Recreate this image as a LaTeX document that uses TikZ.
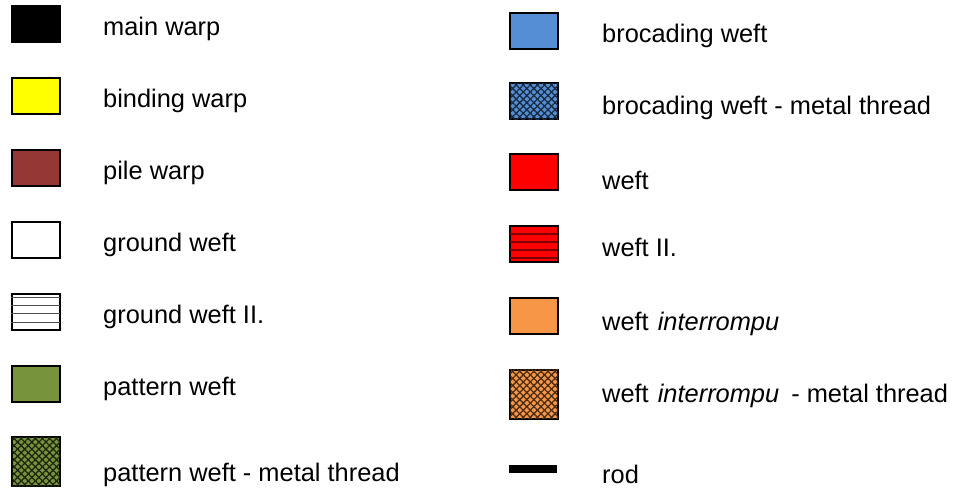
\documentclass[tikz,border=0pt]{standalone}
\usepackage{fontspec}
\setmainfont{Liberation Sans}
\usetikzlibrary{patterns.meta}
\definecolor{pilec}{HTML}{953735}
\definecolor{patc}{HTML}{77933C}
\definecolor{broc}{HTML}{558ED5}
\definecolor{intc}{HTML}{F79646}
\definecolor{weftc}{HTML}{FF0000}
\definecolor{yelc}{HTML}{FFFF00}
\definecolor{darkred}{HTML}{7A0000}
\begin{document}
\begin{tikzpicture}[x=1pt,y=-1pt,
  keybox/.style={draw=black, line width=2pt, minimum width=48pt, minimum height=36pt, inner sep=0pt, outer sep=0pt},
  tallbox/.style={keybox, minimum height=49pt},
  metal/.style={postaction={pattern={Lines[angle=45,distance=5pt,line width=1.3pt]}, pattern color=#1},
                postaction={pattern={Lines[angle=-45,distance=5pt,line width=1.3pt]}, pattern color=#1}},
  lab/.style={anchor=base west, inner sep=0pt, font=\fontsize{25.4}{30}\selectfont},
  stripe/.style={line width=1.2pt, draw=#1}]
\useasboundingbox (0,0) rectangle (953,488);
% left column boxes
\node[keybox, fill=black] (mainwarp) at (36,24) {};
\node[keybox, fill=yelc] (bindwarp) at (36,95.5) {};
\node[keybox, fill=pilec] (pilewarp) at (36,168) {};
\node[keybox, fill=white] (groundweft) at (36,239.5) {};
\node[keybox, fill=white] (groundweftii) at (36,311.5) {};
\node[keybox, fill=patc] (patweft) at (36,383.5) {};
\node[tallbox, fill=patc, metal=patc!25!black] (patmetal) at (36,461.5) {};
% stripes of ground weft II
\foreach \d in {4,12,20,29}{
  \draw[stripe=black!70] ([xshift=-1.5pt,yshift=-\d pt]groundweftii.north west) -- ([yshift=-\d pt]groundweftii.north east);
}
% left labels
\node[lab] (tmainwarp) at (103,35) {main warp};
\node[lab] (tbindwarp) at (103,107) {binding warp};
\node[lab] (tpilewarp) at (103,179) {pile warp};
\node[lab] (tgroundweft) at (103,251) {ground weft};
\node[lab] (tgroundweftii) at (103,323) {ground weft II.};
\node[lab] (tpatweft) at (103,395) {pattern weft};
\node[lab] (tpatmetal) at (103,481.5) {pattern weft - metal thread};
% right column boxes
\node[keybox, fill=broc] (brocweft) at (534,30.5) {};
\node[keybox, fill=broc, metal=broc!30!black] (brocmetal) at (534,101) {};
\node[keybox, fill=weftc] (weft) at (534,172) {};
\node[keybox, fill=weftc] (weftii) at (534,244) {};
\node[keybox, fill=intc] (intweft) at (534,316) {};
\node[tallbox, fill=intc, metal=intc!30!black] (intmetal) at (534,394) {};
\node[fill=black, minimum width=48pt, minimum height=8pt, inner sep=0pt, outer sep=0pt] (rod) at (533,469) {};
% stripes of weft II
\foreach \d in {8,16,24,32}{
  \draw[stripe=darkred, line width=1.3pt] ([yshift=-\d pt]weftii.north west) -- ([yshift=-\d pt]weftii.north east);
}
% right labels
\node[lab] (tbrocweft) at (602,42) {brocading weft};
\node[lab] (tbrocmetal) at (602,114.5) {brocading weft - metal thread};
\node[lab] (tweft) at (602,189) {weft};
\node[lab] (tweftii) at (602,256) {weft II.};
\node[lab] (tintweft) at (602,330) {weft\hspace{2pt} \textit{interrompu}};
\node[lab] (tintmetal) at (602,402) {weft\hspace{2pt} \textit{interrompu}\hspace{5pt} - metal thread};
\node[lab] (trod) at (602,483) {rod};
\end{tikzpicture}
\end{document}
